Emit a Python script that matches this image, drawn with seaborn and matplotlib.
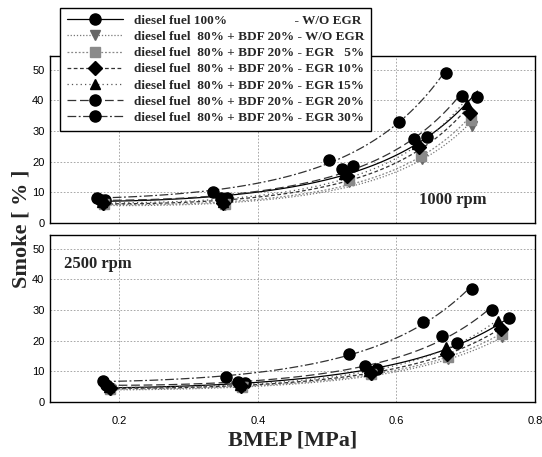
import numpy as np
import matplotlib
matplotlib.use("Agg")
import matplotlib.pyplot as plt
from matplotlib.lines import Line2D
import seaborn as sns

# --- data (BMEP [MPa], smoke [%]) ---
labels = [
    "diesel fuel 100%                    - W/O EGR",
    "diesel fuel  80% + BDF 20% - W/O EGR",
    "diesel fuel  80% + BDF 20% - EGR   5%",
    "diesel fuel  80% + BDF 20% - EGR 10%",
    "diesel fuel  80% + BDF 20% - EGR 15%",
    "diesel fuel  80% + BDF 20% - EGR 20%",
    "diesel fuel  80% + BDF 20% - EGR 30%",
]

# 1000 rpm
x_1000 = [
    [0.180, 0.356, 0.537, 0.644, 0.717],
    [0.178, 0.352, 0.532, 0.637, 0.709],
    [0.178, 0.352, 0.531, 0.636, 0.708],
    [0.176, 0.350, 0.528, 0.632, 0.706],
    [0.175, 0.349, 0.525, 0.630, 0.702],
    [0.173, 0.347, 0.521, 0.625, 0.695],
    [0.168, 0.335, 0.503, 0.604, 0.671],
]
y_1000 = [
    [7.4, 8.0, 18.5, 28.2, 41.2],
    [6.0, 5.8, 13.3, 21.0, 31.7],
    [6.3, 6.1, 14.0, 22.0, 33.5],
    [6.6, 6.5, 15.3, 24.7, 36.0],
    [6.9, 6.9, 16.1, 25.8, 38.7],
    [7.6, 8.3, 17.7, 27.4, 41.6],
    [8.3, 10.2, 20.6, 32.8, 49.1],
]

# 2500 rpm
x_2500 = [
    [0.187, 0.382, 0.572, 0.687, 0.763],
    [0.188, 0.378, 0.565, 0.675, 0.753],
    [0.187, 0.377, 0.564, 0.674, 0.752],
    [0.186, 0.376, 0.563, 0.673, 0.751],
    [0.185, 0.374, 0.561, 0.672, 0.747],
    [0.181, 0.372, 0.554, 0.666, 0.738],
    [0.176, 0.354, 0.532, 0.638, 0.709],
]
y_2500 = [
    [4.6, 6.3, 10.7, 19.2, 27.3],
    [4.0, 4.8, 8.8, 13.9, 21.1],
    [4.2, 5.0, 9.2, 14.7, 22.2],
    [4.5, 5.3, 9.6, 15.8, 23.8],
    [4.8, 5.6, 10.0, 17.9, 26.4],
    [5.5, 6.5, 11.6, 21.4, 30.1],
    [6.8, 8.2, 15.8, 26.2, 36.8],
]

x_ticks = [0.2, 0.4, 0.6, 0.8]
y_ticks = [0, 10, 20, 30, 40, 50]

# --- styles ---
markers = ["o", "v", "s", "D", "^", "o", "o"]
mcolors = ["black", "#666666", "#8a8a8a", "black", "black", "black", "black"]
lcolors = ["black", "#777777", "#888888", "#333333", "#555555", "#333333", "#333333"]
lstyles = ["-", (0, (1, 1.5)), (0, (1.5, 1.5)), (0, (3, 2)), (0, (1, 2.5)),
           (0, (7, 3)), (0, (7, 2, 1.5, 2))]
msizes = [8, 6.5, 6.5, 7, 7, 8, 8]

sns.set_theme(style="white")
plt.rcParams["font.family"] = ["Liberation Sans", "DejaVu Sans"]

fig = plt.figure(figsize=(5.42, 4.57), dpi=100)
W, H = 542, 457
ax_top = fig.add_axes([50 / W, 1 - 223 / H, 485 / W, 167 / H])
ax_bot = fig.add_axes([50 / W, 1 - 402 / H, 485 / W, 167 / H])

serif_bold = {"family": "Liberation Serif", "weight": "bold"}


def draw(ax, xs, ys):
    for i in range(len(labels)):
        x = np.array(xs[i])
        y = np.array(ys[i])
        # smooth trend through the points (quadratic in log space)
        coef = np.polyfit(x, np.log(y), 2)
        xf = np.linspace(x.min(), x.max(), 100)
        yf = np.exp(np.polyval(coef, xf))
        sns.lineplot(x=xf, y=yf, ax=ax, color=lcolors[i], lw=0.9,
                     linestyle=lstyles[i], legend=False)
        ax.plot(x, y, linestyle="none", marker=markers[i], ms=msizes[i],
                color=mcolors[i], mec=mcolors[i], zorder=5)
    ax.set_xlim(0.1, 0.8)
    ax.set_ylim(0, 54.5)
    ax.set_xticks(x_ticks)
    ax.set_yticks(y_ticks)
    ax.grid(True, color="#9a9a9a", linestyle=(0, (2, 2)), lw=0.6)
    for s in ax.spines.values():
        s.set_color("black")
        s.set_linewidth(1.0)
    ax.tick_params(axis="both", labelsize=8, length=2, pad=2, colors="black")


draw(ax_top, x_1000, y_1000)
draw(ax_bot, x_2500, y_2500)
ax_top.set_xticklabels([])
ax_bot.tick_params(axis="x", pad=8)

ax_top.text(0.633, 7.4, "1000 rpm", fontdict=serif_bold, fontsize=12, va="center")
ax_bot.text(0.12, 45, "2500 rpm", fontdict=serif_bold, fontsize=12, va="center")

fig.text(22 / W, 1 - 229 / H, "Smoke [ % ]", rotation=90, ha="center", va="center",
         fontdict=serif_bold, fontsize=16)
fig.text(293 / W, 1 - 440 / H, "BMEP [MPa]", ha="center", va="center",
         fontdict=serif_bold, fontsize=16)

handles = [Line2D([], [], color=lcolors[i], linestyle=lstyles[i], lw=0.9,
                  marker=markers[i], ms=msizes[i], mfc=mcolors[i], mec=mcolors[i])
           for i in range(len(labels))]
leg = fig.legend(handles, labels, loc="upper left",
                 bbox_to_anchor=(60 / W, 1 - 8 / H), borderaxespad=0,
                 prop={"family": "Liberation Serif", "weight": "bold", "size": 9.5},
                 frameon=True, fancybox=False, framealpha=1, edgecolor="black",
                 handlelength=4.3, handletextpad=0.8, labelspacing=0.3,
                 borderpad=0.5)
leg.get_frame().set_linewidth(1.0)

fig.savefig("out.png", dpi=100)
